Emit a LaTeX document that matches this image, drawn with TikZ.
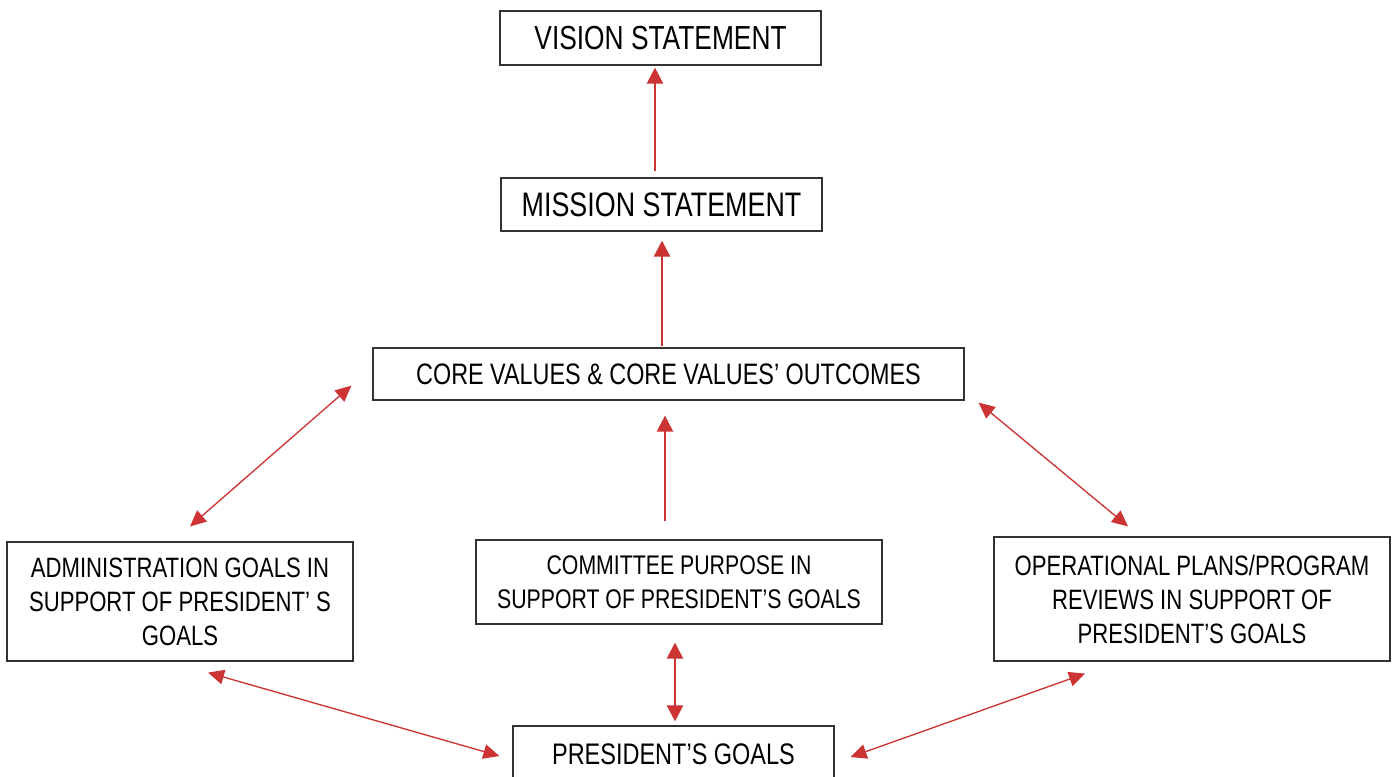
\documentclass[tikz,border=0pt]{standalone}
\usepackage{fontspec}
\setmainfont[FakeStretch=0.79]{Liberation Sans}
\usetikzlibrary{arrows.meta,calc}
\definecolor{arrowred}{HTML}{CC3333}
\definecolor{boxline}{HTML}{333333}

\begin{document}
\begin{tikzpicture}[x=0.75pt, y=-0.75pt,
    box/.style={draw=boxline, line width=0.9pt, inner sep=0pt, align=center, font=\fontsize{21}{25.5}\selectfont},
    uparrow/.style={draw=arrowred, line width=1.8pt, -{Triangle[length=12pt, width=12pt]}},
    bothways/.style={draw=arrowred, line width=1.8pt, {Triangle[length=12pt, width=12pt]}-{Triangle[length=12pt, width=12pt]}},
    slanted/.style={draw=arrowred, line width=1pt, {Triangle[length=12pt, width=11pt]}-{Triangle[length=12pt, width=11pt]}}]
    \useasboundingbox (0,0) rectangle (1396,776);

    \node[box, font=\fontsize{25}{30}\selectfont, minimum width=240.75pt, minimum height=40.5pt] (vision) at (660.5,38) {VISION STATEMENT};
    \node[box, font=\fontsize{25.5}{30}\selectfont, minimum width=240.75pt, minimum height=39.75pt] (mission) at (661.5,204.5) {MISSION STATEMENT};
    \node[box, font=\fontsize{22.2}{27}\selectfont, minimum width=443.25pt, minimum height=39pt] (core) at (668.5,374) {CORE VALUES \& CORE VALUES’ OUTCOMES};

    \node[box, minimum width=259.5pt, minimum height=89.25pt] (admin) at (180,601.5) {ADMINISTRATION GOALS IN\\SUPPORT OF PRESIDENT’ S\\GOALS};
    \node[box, font=\fontsize{20.2}{25.5}\selectfont, minimum width=304.5pt, minimum height=63pt] (committee) at (679,582) {COMMITTEE PURPOSE IN\\SUPPORT OF PRESIDENT’S GOALS};
    \node[box, minimum width=297pt, minimum height=93pt] (operational) at (1192,599) {OPERATIONAL PLANS/PROGRAM\\REVIEWS IN SUPPORT OF\\PRESIDENT’S GOALS};

    \node[box, font=\fontsize{22.3}{27}\selectfont, minimum width=240.75pt, minimum height=42pt] (president) at (673.5,754) {PRESIDENT’S GOALS};

    % upward chain
    \draw[uparrow] ($(mission.north)+(-6.5,-6)$) -- ($(vision.south)+(-5.5,2)$);
    \draw[uparrow] ($(core.north)+(-6.5,-1)$) -- ($(mission.south)+(0.5,9)$);
    \draw[uparrow] ($(committee.north)+(-14,-18)$) -- ($(core.south)+(-3.5,15)$);

    % links to core values
    \draw[slanted] ($(core.south west)+(-21,-15)$) -- ($(admin.north)+(10,-15)$);
    \draw[slanted] ($(core.south east)+(14,2)$) -- ($(operational.north)+(-64,-10)$);

    % links to president's goals
    \draw[bothways] ($(committee.south)+(-4,18)$) -- ($(president.north)+(1.5,-4)$);
    \draw[slanted] ($(admin.south)+(28,11)$) -- ($(president.west)+(-13,2)$);
    \draw[slanted] ($(operational.south)+(-107,12)$) -- ($(president.east)+(16,3)$);
\end{tikzpicture}
\end{document}
